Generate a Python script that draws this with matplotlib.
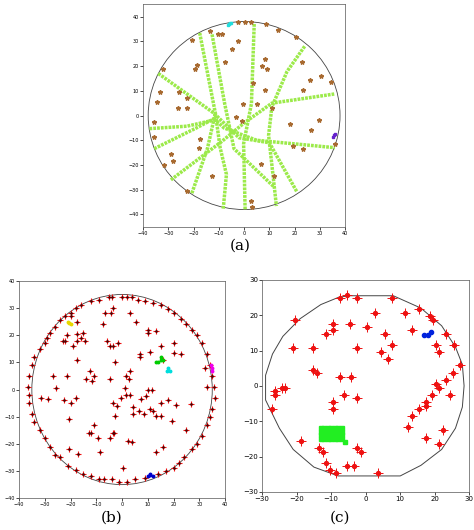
import matplotlib

matplotlib.use("Agg")
import matplotlib.pyplot as plt
from matplotlib.patches import Circle, Polygon

# ---- panel (a) ----
a_defects_x = [-10.5, -8.6, -2.4, 0.4, 2.9, 8.8, -13.6, -20.6, 13.4, 20.5, -2.4, -4.6, 8.4, -7.7,
               -18.5, -19.6, 7.0, 9.0, 23.0, -32.0, 26.0, 30.5, 34.5, 3.5, 8.4, 23.5, -33.5, -25.7,
               -22.6, -34.4, -26.3, -22.8, -0.5, 5.3, 11.0, -3.3, -0.9, 29.5, 26.4, 18.0, -35.6,
               -35.6, -17.6, -17.9, -28.8, -28.0, -31.8, 19.3, 23.3, 36.0, 6.6, 12.0, -12.9, -22.6,
               2.9, 3.1]
a_defects_y = [33, 33, 38, 38, 38, 37, 34, 30.5, 34.7, 31.7, 30, 27, 23, 21.8,
               20.5, 19, 20, 19, 21.7, 19, 14.5, 15.8, 13.6, 13, 10.4, 10.4, 9.4, 9.4,
               7, 5.3, 3.2, 3.2, 4.5, 4.8, 2.9, -0.4, -2.3, -2, -6, -3.6, -2.6,
               -8.8, -9.5, -13, -15.7, -18.5, -20, -12.3, -13.4, -11.4, -19.6, -24.4, -24.4, -30.5,
               -34.4, -36.8]
a_scratches = [
    ([-34, -12, -2, 10, 21], [17, 1, -9, -11, -31]),
    ([-37.5, -22.6, -11.4, -8, 5, 36], [-5.3, -4.3, -1.7, -5, -10, -13]),
    ([-29, -9, 0, 11, 35.7], [-26, -10.6, -3, 5, 8.7]),
    ([-35.6, -18.9, -11.4], [-13.4, -5, -1]),
    ([-17.6, -11.4, -9.5, -7, -8.3], [33.4, 1, -13, -23.8, -38]),
    ([4, 2.9, -0.2, 0.4], [37, 4.8, -11.4, -38]),
    ([24, 17, 11, 9.7, 12.8], [28, 17.8, 3.5, -8, -36.6]),
    ([-12.7, -7.7, -4, 12], [32.8, 4.8, -13.4, -29]),
    ([-20.7, -14.5, -11.4], [-31.4, -13.2, 1]),
]
a_cyan_x = [-6.5, -6.0, -5.5, -5.0]
a_cyan_y = [36.5, 37.0, 37.3, 37.5]
a_purple_x = [35.2, 35.7, 36.2]
a_purple_y = [-8.5, -8.0, -7.5]

# ---- panel (b) ----
b_inner = [(-3.7, 30), (-4.2, 28), (-6.6, 28), (3, 28), (5.3, 25), (-7.4, 24), (-5.8, 18), (-4.6, 16),
           (-3.6, 16), (-1.5, 17), (-15, 21), (-15.9, 19), (-14.4, 18), (-17.5, 20.5), (-17.5, 18),
           (-19, 16), (-22, 18), (-23, 18), (-21.5, 20), (-17.5, 11), (-17.5, 25), (-20, 27),
           (-2.7, 10), (7, 13), (7, 12), (13.3, 21.6), (10, 21), (10, 22), (15, 16), (20, 17),
           (20, 13.5), (23, 13), (11, 14), (-12.6, 7), (-14, 4), (-10.7, 5), (-11.7, 3), (-26.7, 5),
           (-21.5, 5), (-4.8, 4), (1.6, 5), (2.6, 4), (3, 7), (1, 0.4), (1.6, -2), (3, -2), (-0.6, -3),
           (-3.6, -5), (-2, -6), (7.5, -3.6), (9.2, -2.4), (10, 0), (11.7, 0), (11, -7), (12, -8),
           (13.3, -9.6), (15, -9.6), (15, -5), (18, -4), (21, -5.8), (19.5, -11.7), (26.8, -5.2),
           (25, -14.8), (16, -21), (13.3, -23), (6.5, -7.8), (8.4, -9), (4.3, -9), (4.3, -6.6),
           (-2.7, -9.8), (-10.7, -13), (-12.8, -16), (-12, -16), (-3.6, -16), (-3, -16), (-4.5, -18),
           (-9.5, -18), (-8.6, -23), (-20.5, -22), (-20.5, -11), (-19.7, -4.8), (-17.7, -3),
           (-22.6, -4), (-25.5, 0.4), (-28.6, -3.6), (-31.6, -3), (-17.2, -23.7), (2.2, -19),
           (3.8, -19.2), (0.4, -28.8), (16, 11), (32, 8), (33, 1)]
b_edge = [(-30, 17), (-28, 21), (-26, 23), (-24, 25.5), (-20, 28), (-18, 30), (-16, 31), (-12, 32.5),
          (-9, 33), (-5, 34), (-4, 34), (0, 34), (2, 34), (4, 34), (6, 33), (9, 32.5), (12, 32),
          (15, 31), (18, 29.5), (20, 28), (23, 26), (25, 24), (27, 22), (29, 20), (31, 17), (33, 13),
          (34, 9), (35, 5), (35.5, 1), (36, -3), (35, -7), (34, -10), (33, -13), (31, -17), (29, -20),
          (27, -22), (24, -25), (22, -27), (20, -29), (17, -30), (14, -31), (9, -32.5), (5, -33),
          (2, -34), (-1, -34), (-4, -33), (-7, -33), (-9, -33), (-12, -32), (-15, -31), (-18, -29.5),
          (-21, -28), (-24, -25), (-26, -24), (-28, -21), (-30, -18), (-32, -15), (-34, -12),
          (-35, -9), (-36, -5), (-36, -2), (-36.5, 1), (-36, 5), (-35, 9), (-34, 12), (-32, 15),
          (-29, 19), (-22, 27)]
b_clusters = {
    "#e8d800": [(-20.5, 24.5), (-21, 25), (-20, 24)],
    "#00cc00": [(13, 10), (14, 10), (15, 11), (15, 12), (16, 11)],
    "#00dddd": [(17.5, 7), (18, 8), (18.5, 7)],
    "#ee00ee": [(34.5, 9), (35, 8), (35, 7)],
    "#0000cc": [(10, -32), (11, -31.5), (11, -31), (12, -32)],
}

# ---- panel (c) ----
c_defects = [(-7.3, 24.8), (-5.4, 25.8), (-2.4, 24.8), (7.6, 24.8), (-20.5, 18.7), (2.7, 20.7),
             (11.5, 20.7), (15.5, 21.8), (18.6, 19.7), (19.5, 18.7), (-9.4, 17.6), (-4.5, 17.6),
             (-9.4, 15.7), (-11.4, 14.7), (0.5, 16.6), (5.5, 14.7), (13.3, 15.7), (23.2, 14.7),
             (7.6, 11.7), (4.5, 9.7), (-2.4, 10.7), (-21.2, 10.7), (-15.3, 10.7), (6.6, 7.6),
             (20.4, 11.7), (21.2, 9.7), (25.5, 11.7), (27.2, 5.8), (25.3, 3.7), (-15.3, 4.6),
             (-14.1, 3.7), (-7.3, 2.6), (-4.2, 2.6), (23.4, 1.7), (20.3, 0.6), (21.2, -0.6),
             (19.3, -2.5), (24.4, -2.5), (-26.2, -1.5), (-26.2, -2.5), (-24.2, -0.6), (-23.3, -0.6),
             (-27.2, -6.5), (-6.3, -2.5), (-2.4, -3.5), (-9.4, -4.6), (-9.4, -6.5), (17.5, -4.6),
             (17.5, -5.6), (15.5, -6.5), (13.3, -8.6), (12.4, -11.7), (22.4, -12.6), (17.5, -14.7),
             (21.2, -16.6), (-18.6, -15.7), (-13.5, -17.6), (-12.4, -18.8), (-2.4, -17.6),
             (-1.3, -18.8), (-11.4, -21.8), (-10.3, -23.8), (-8.5, -24.7), (-5.4, -22.7),
             (-3.3, -22.7), (3.6, -24.7)]
c_blue = [(17, 14.5), (18, 14.5), (19, 15.3)]
c_green_x = [-13, -12, -11, -10, -9, -8, -7]
c_green_y = [-12, -13, -14, -15]
c_outline = [(-5, 25.5), (8, 25.5), (16, 22), (22, 17), (26, 11), (28, 6), (28.5, 0), (28, -6),
             (26, -12), (22, -18), (16, -22.5), (10, -25.5), (-8, -25.5), (-15, -23), (-21, -18),
             (-25, -12), (-28, -6), (-29, -4), (-29, 3), (-27, 9), (-24, 14), (-19, 19), (-13, 23),
             (-8, 25)]


def style(ax, fs):
    ax.tick_params(labelsize=fs, length=2, width=0.5, pad=1)
    for s in ax.spines.values():
        s.set_linewidth(0.5)
        s.set_color("#555555")


fig = plt.figure(figsize=(4.74, 5.30), dpi=100)

ax_a = fig.add_axes([0.302, 0.572, 0.426, 0.42])
ax_a.add_patch(Circle((0, 0), 38, fill=False, color="#444444", lw=0.6))
for xs, ys in a_scratches:
    ax_a.plot(xs, ys, color="#9cea4a", lw=2.5, ls=(0, (0.8, 0.3)))
ax_a.plot(a_defects_x, a_defects_y, "*", color="#a86a30", ms=3.2, ls="none")
ax_a.plot(a_cyan_x, a_cyan_y, "s", color="#22dddd", ms=2, ls="none")
ax_a.plot(a_purple_x, a_purple_y, "s", color="#6622cc", ms=1.5, ls="none")
ax_a.set_xlim(-40, 40)
ax_a.set_ylim(-45, 45)
ax_a.set_xticks(range(-40, 41, 10))
ax_a.set_yticks(range(-40, 41, 10))
style(ax_a, 3.5)

ax_b = fig.add_axes([0.04, 0.06, 0.435, 0.41])
ax_b.add_patch(Circle((0, 0), 35, fill=False, color="#444444", lw=0.6))
pts = b_inner + b_edge
bx = [p[0] for p in pts]
by = [p[1] for p in pts]
ax_b.plot(bx, by, "+", color="#ee1111", ms=4, mew=0.8, ls="none")
ax_b.plot(bx, by, ".", color="#550000", ms=2, ls="none")
for col, cl in b_clusters.items():
    ax_b.plot([p[0] for p in cl], [p[1] for p in cl], "o", color=col, ms=1.8, ls="none")
ax_b.set_xlim(-40, 40)
ax_b.set_ylim(-40, 40)
ax_b.set_xticks(range(-40, 41, 10))
ax_b.set_yticks(range(-40, 41, 10))
style(ax_b, 3.5)

ax_c = fig.add_axes([0.553, 0.072, 0.437, 0.40])
ax_c.add_patch(Polygon(c_outline, closed=True, fill=False, color="#444444", lw=0.7))
cx = [p[0] for p in c_defects]
cy = [p[1] for p in c_defects]
ax_c.plot(cx, cy, "+", color="#ee1111", ms=7, mew=0.7, ls="none")
ax_c.plot(cx, cy, "o", color="#ee1111", ms=2.8, ls="none")
gx = [x for x in c_green_x for _ in c_green_y] + [-6]
gy = [y for _ in c_green_x for y in c_green_y] + [-15.8]
ax_c.plot(gx, gy, "s", color="#22ee22", ms=2.6, ls="none")
ax_c.plot([p[0] for p in c_blue], [p[1] for p in c_blue], "o", color="#0022dd", ms=3, ls="none")
ax_c.set_xlim(-30, 30)
ax_c.set_ylim(-30, 30)
ax_c.set_xticks(range(-30, 31, 10))
ax_c.set_yticks(range(-30, 31, 10))
style(ax_c, 5)

fig.text(0.506, 0.537, "(a)", ha="center", va="center", fontsize=11, family="DejaVu Serif")
fig.text(0.236, 0.023, "(b)", ha="center", va="center", fontsize=11, family="DejaVu Serif")
fig.text(0.718, 0.023, "(c)", ha="center", va="center", fontsize=11, family="DejaVu Serif")

fig.savefig("out.png", dpi=100)
